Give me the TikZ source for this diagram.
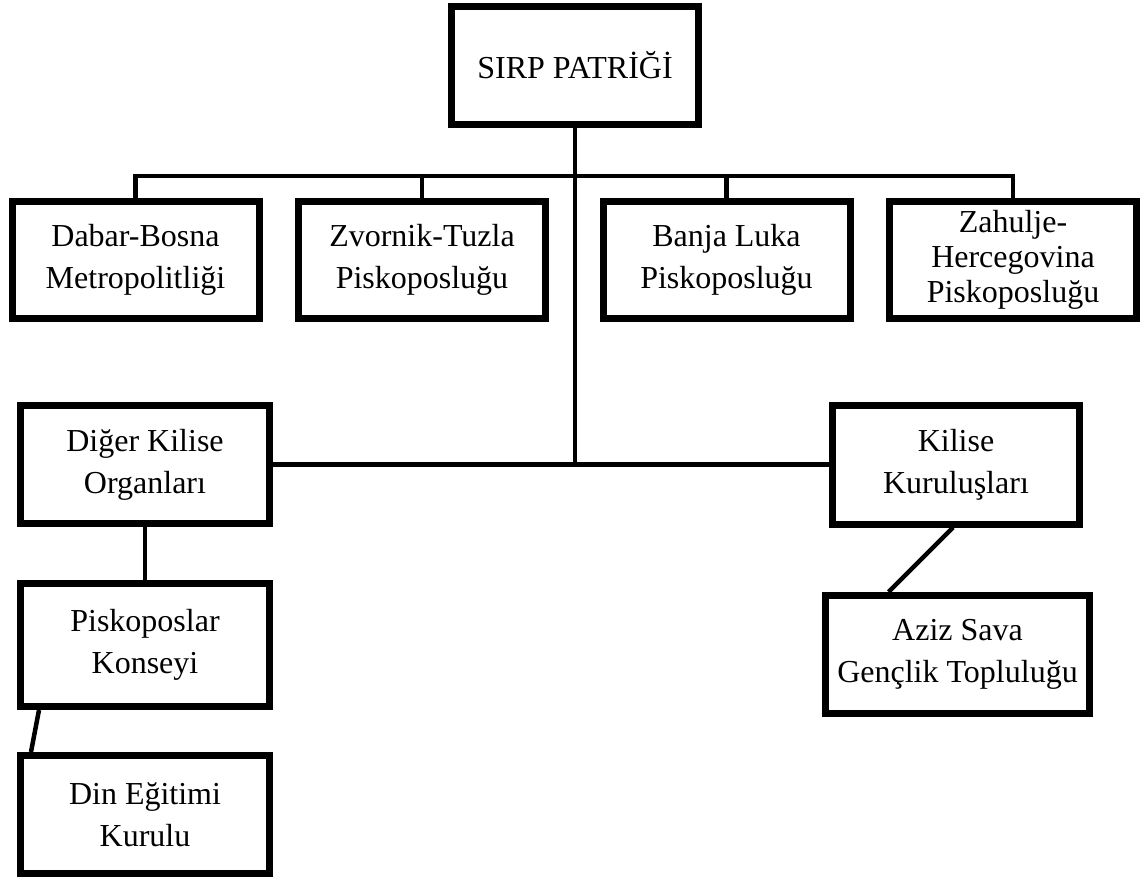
\documentclass[tikz,border=0pt]{standalone}
\usepackage{fontspec}
\setmainfont{Liberation Serif}

\begin{document}
\begin{tikzpicture}[x=1pt, y=-1pt,
    kutu/.style={draw, line width=7pt, minimum width=247pt, minimum height=117pt,
        inner sep=0pt, align=center, font=\fontsize{32}{42}\selectfont},
    hat/.style={line width=4.5pt}]

\useasboundingbox (0,0) rectangle (1145,879);

\coordinate (cBus) at (575, 176);

\node[kutu, minimum height=118pt] (nPatrik) at (575, 65.5) {SIRP PATRİĞİ};

\node[kutu] (nDabar) at (135.5, 260) {Dabar-Bosna\\Metropolitliği};
\node[kutu] (nZvornik) at (422, 260) {Zvornik-Tuzla\\Piskoposluğu};
\node[kutu] (nBanja) at (726.5, 260) {Banja Luka\\Piskoposluğu};
\node[kutu, font=\fontsize{32}{35}\selectfont] (nZahulje) at (1013, 260) {Zahulje-\\Hercegovina\\Piskoposluğu};

\draw[hat] (nDabar.north) -- (nDabar.north |- cBus) -- (nZahulje.north |- cBus) -- (nZahulje.north);
\foreach \v in {nZvornik, nBanja}
{
    \draw[hat] (\v.north) -- (\v.north |- cBus);
};

\node[kutu, minimum width=249pt, minimum height=118pt] (nDiger) at (145, 464.5) {Diğer Kilise\\Organları};
\node[kutu, minimum width=249pt, minimum height=123pt] (nPiskoposlar) at (145, 645) {Piskoposlar\\Konseyi};
\node[kutu, minimum width=249pt, minimum height=118pt] (nDin) at (145, 814.5) {Din Eğitimi\\Kurulu};
\node[kutu, minimum height=119pt] (nKurulus) at (956, 464.5) {Kilise\\Kuruluşları};
\node[kutu, minimum width=264pt, minimum height=118pt] (nAziz) at (957.5, 654.5) {Aziz Sava\\Gençlik Topluluğu};

\draw[hat] (nPatrik.south) -- (nPatrik.south |- nDiger.east);
\draw[hat] (nDiger.east) -- (nKurulus.west);
\draw[hat] (nDiger) -- (nPiskoposlar);
\draw[hat] ([xshift=22pt]nPiskoposlar.south west) -- ([xshift=14pt]nDin.north west);
\draw[hat] ([xshift=-3pt]nKurulus.south) -- ([xshift=-69pt]nAziz.north);

\end{tikzpicture}
\end{document}
